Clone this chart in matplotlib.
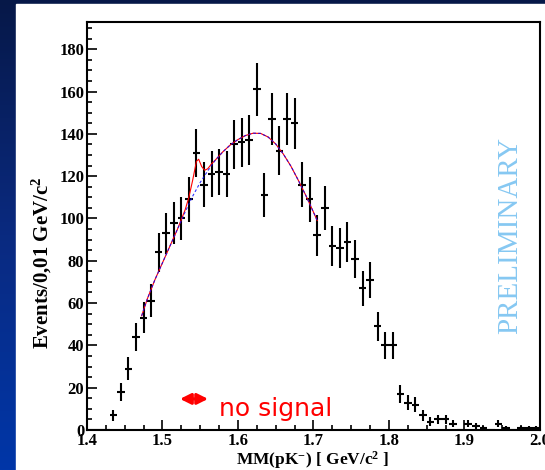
import numpy as np
import matplotlib
matplotlib.use("Agg")
import matplotlib.pyplot as plt
from matplotlib.patches import Rectangle
from matplotlib.ticker import MultipleLocator

plt.rcParams['mathtext.fontset'] = 'custom'
plt.rcParams['mathtext.rm'] = 'Liberation Serif:bold'
plt.rcParams['mathtext.it'] = 'Liberation Serif:bold'
plt.rcParams['mathtext.bf'] = 'Liberation Serif:bold'

# missing mass spectrum, 0.01 GeV bins
bin_centers = np.round(np.arange(1.405, 2.0, 0.01), 3)
counts = [0, 0, 0, 7, 18, 29, 44, 53, 61, 84,
          93, 98, 100, 109, 131, 116, 121, 122, 121, 135,
          136, 137, 161, 111, 147, 132, 147, 145, 116, 109,
          92, 105, 87, 86, 89, 81, 67, 71, 49, 40,
          40, 17, 13, 12, 7, 4, 5, 5, 3, 0,
          3, 2, 1, 0, 3, 1, 0, 1, 1, 1]

# fitted background (dashed blue)
bkg_x = [1.4725, 1.48, 1.49, 1.50, 1.51, 1.52, 1.53, 1.54, 1.55, 1.56,
         1.57, 1.58, 1.59, 1.60, 1.61, 1.62, 1.63, 1.64, 1.65, 1.66,
         1.67, 1.68, 1.69, 1.70, 1.705]
bkg_y = [54, 62, 71, 79, 87, 95, 103, 110.5, 117, 122.5,
         127.5, 131.5, 134.8, 137.3, 139.2, 140.3, 140.2, 138.5, 135.2, 130.5,
         124.8, 118, 110.8, 103, 99]

# total fit, background + small peak (solid red)
tot_x = [1.4725, 1.48, 1.49, 1.50, 1.51, 1.52, 1.53, 1.535, 1.54, 1.545,
         1.548, 1.552, 1.556, 1.56, 1.565, 1.57, 1.58, 1.59, 1.60, 1.61,
         1.62, 1.63, 1.64, 1.65, 1.66, 1.67, 1.68, 1.69, 1.70, 1.705]
tot_y = [54, 62, 71, 79, 87, 95, 104, 110, 118, 127,
         128, 124.5, 122.8, 123.5, 125.8, 127.6, 131.5, 134.8, 137.3, 139.2,
         140.3, 140.2, 138.5, 135.2, 130.5, 124.8, 118, 110.8, 103, 99]

errs = np.sqrt(counts)

fig = plt.figure(figsize=(5.45, 4.70), dpi=100)

# slide background: blue gradient with white panel
bg = fig.add_axes([0, 0, 1, 1])
grad = np.linspace(0, 1, 256).reshape(-1, 1)
cmap = matplotlib.colors.LinearSegmentedColormap.from_list('slide', ['#061848', '#0a2a80', '#0036a8'])
bg.imshow(grad, aspect='auto', cmap=cmap, extent=[0, 1, 0, 1], origin='upper')
bg.add_patch(Rectangle((0.0286, 0), 1, 0.9915, color='white', transform=bg.transAxes))
bg.set_xlim(0, 1)
bg.set_ylim(0, 1)
bg.axis('off')

ax = fig.add_axes([0.1595, 0.0851, 0.8313, 0.8687])
ax.errorbar(bin_centers, counts, yerr=errs, xerr=0.005, fmt='none',
            ecolor='black', elinewidth=1.5, capsize=0, zorder=3)
ax.plot(tot_x, tot_y, color='red', lw=0.8, zorder=4)
ax.plot(bkg_x, bkg_y, color='blue', lw=0.8, ls=(0, (2.5, 2)), alpha=0.8, zorder=5)

ax.set_xlim(1.4, 2.0)
ax.set_ylim(0, 193)
ax.xaxis.set_major_locator(MultipleLocator(0.1))
ax.xaxis.set_minor_locator(MultipleLocator(0.025))
ax.yaxis.set_major_locator(MultipleLocator(20))
ax.yaxis.set_minor_locator(MultipleLocator(5))
ax.xaxis.set_major_formatter(matplotlib.ticker.FormatStrFormatter('%.1f'))
ax.tick_params(which='both', direction='in', top=False, right=False, width=1.2)
ax.tick_params(which='major', length=7)
ax.tick_params(which='minor', length=3.5)
ax.tick_params(axis='y', pad=2)
ax.tick_params(axis='x', pad=2)
for lab in ax.get_xticklabels() + ax.get_yticklabels():
    lab.set_fontfamily('Liberation Serif')
    lab.set_fontweight('bold')
    lab.set_fontsize(12)
for s in ax.spines.values():
    s.set_linewidth(1.5)

ax.text(0.499, -0.074, r'MM(pK$^{-}$) [ GeV/c$^{2}$ ]', transform=ax.transAxes,
        ha='center', va='center', fontsize=12.5, fontweight='bold', family='Liberation Serif')
ax.text(-0.1, 0.41, r'Events/0,01 GeV/c$^{2}$', transform=ax.transAxes, rotation=90,
        ha='center', va='center', fontsize=15, fontweight='bold', family='Liberation Serif')

ax.text(1.9602, 92, 'PRELIMINARY', rotation=90, ha='center', va='center',
        fontsize=21, color='#86c8f2', family='Liberation Serif')

ax.annotate('', xy=(1.5233, 14.7), xytext=(1.5604, 14.7),
            arrowprops=dict(arrowstyle='<|-|>', color='red', lw=2.2,
                            mutation_scale=16, shrinkA=0, shrinkB=0))
ax.text(1.5753, 6.6, 'no signal', color='red', fontsize=18, ha='left', va='baseline',
        family='DejaVu Sans')

fig.savefig('out.png', dpi=100)
